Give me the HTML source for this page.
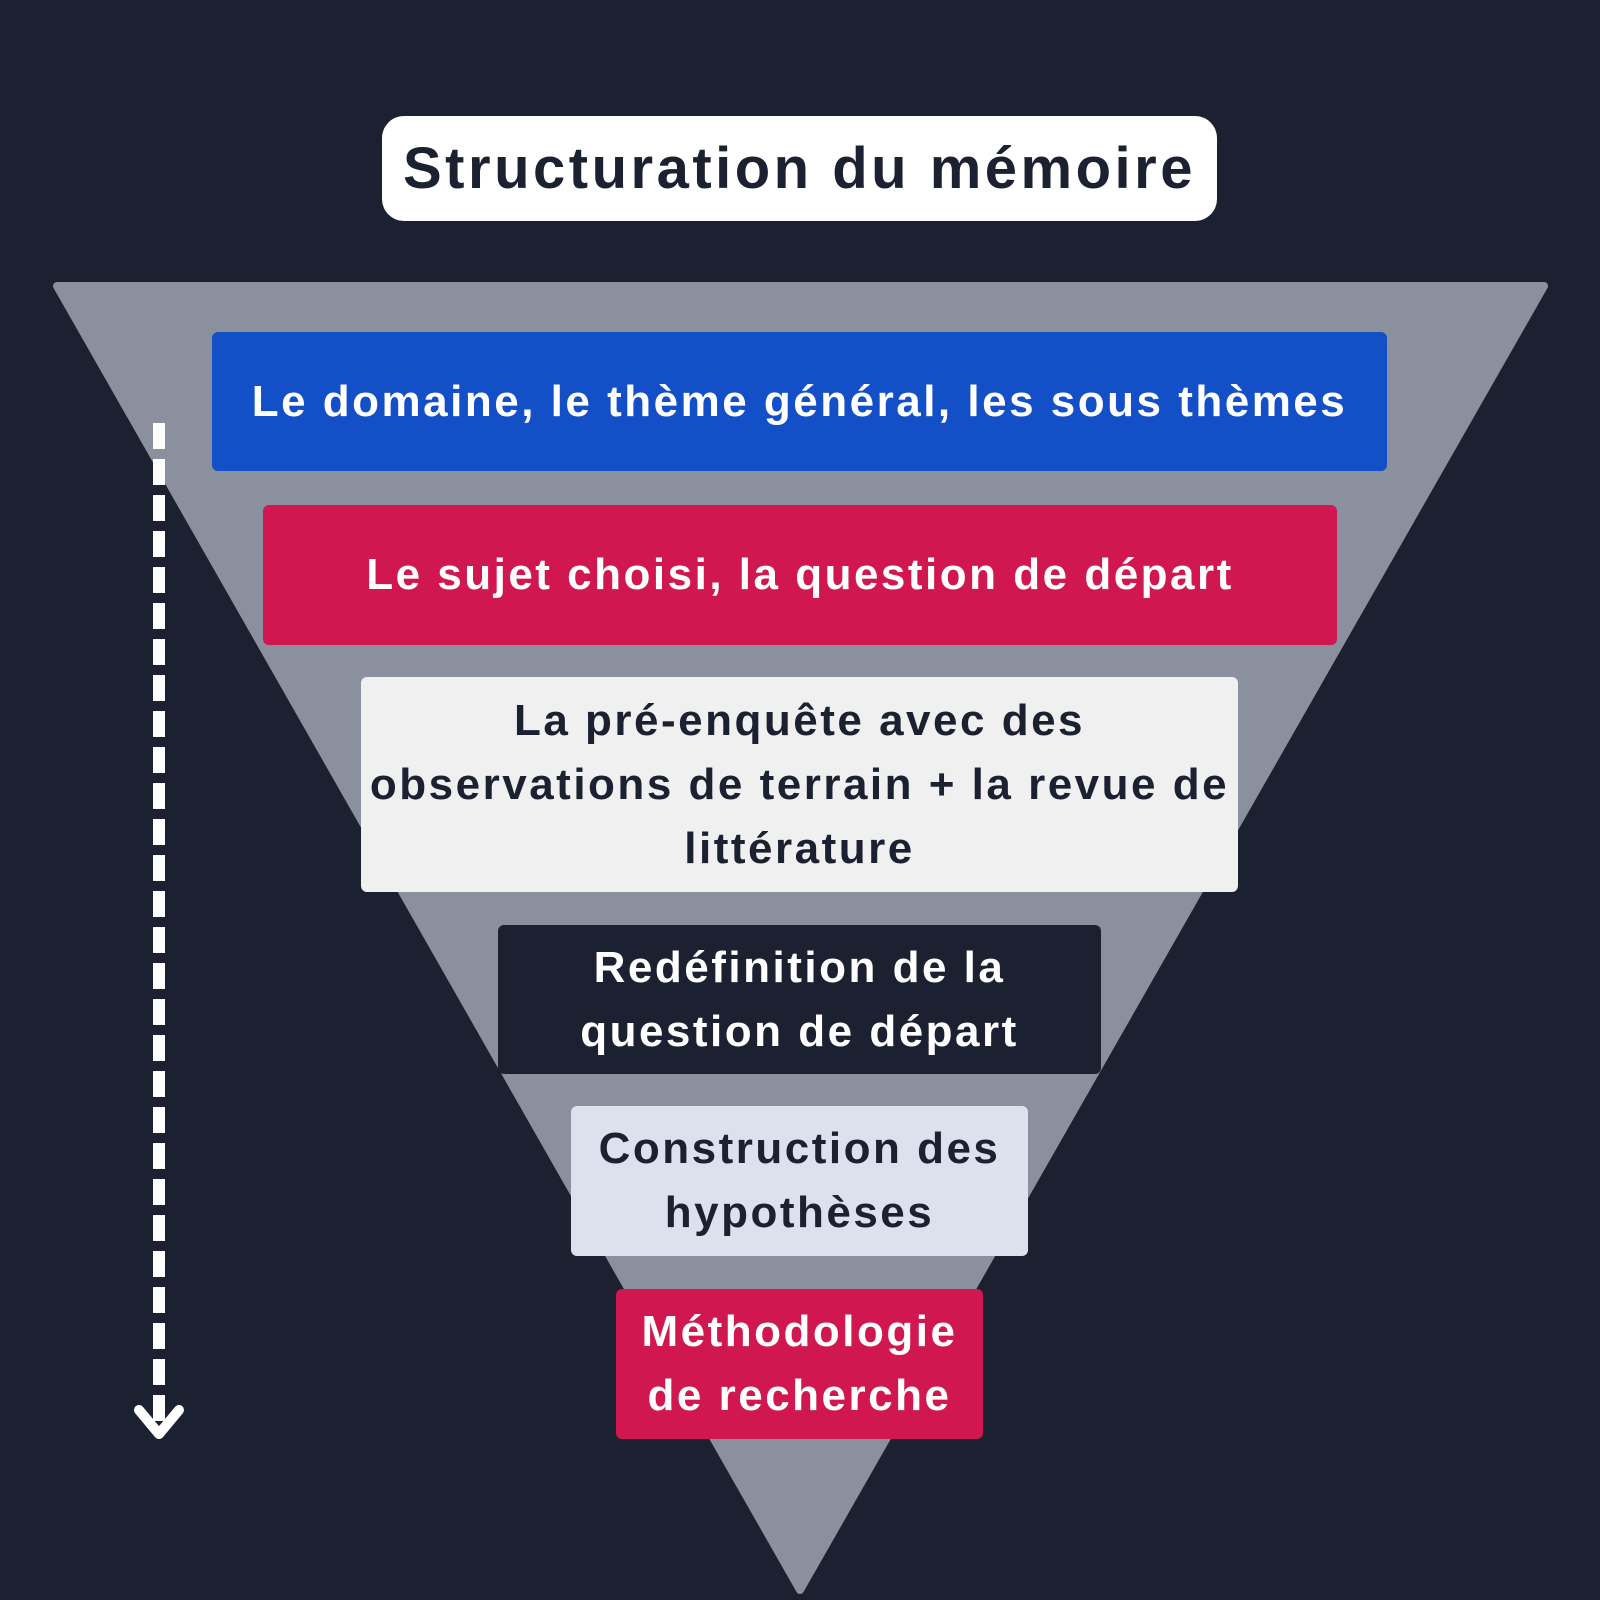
<!DOCTYPE html>
<html><head><meta charset="utf-8"><style>
body{margin:0;width:1600px;height:1600px;background:#1c2131;position:relative;overflow:hidden;font-family:"Liberation Sans",sans-serif;font-weight:bold}
.b{position:absolute;display:flex;align-items:center;justify-content:center;text-align:center;border-radius:6px;font-size:44px;line-height:64px;letter-spacing:2.5px}
</style></head><body>
<svg width="1600" height="1600" style="position:absolute;left:0;top:0">
<polygon points="57,286 1544,286 800,1590" fill="#8a909d" stroke="#8a909d" stroke-width="8" stroke-linejoin="round"/>
<line x1="159" y1="423" x2="159" y2="1425" stroke="#fff" stroke-width="12" stroke-dasharray="26,10"/>
<polyline points="139,1410 159,1434 179,1410" fill="none" stroke="#fff" stroke-width="10" stroke-linecap="round" stroke-linejoin="round"/>
</svg>
<div class="b" style="left:382px;top:116px;width:835px;height:105px;background:#fff;color:#1c2131;border-radius:22px;font-size:58px;letter-spacing:3.5px">Structuration du mémoire</div>
<div class="b" style="left:212px;top:332px;width:1175px;height:139px;background:#134fc6;color:#fff">Le domaine, le thème général, les sous thèmes</div>
<div class="b" style="left:263px;top:505px;width:1074px;height:140px;background:#d1174f;color:#fff">Le sujet choisi, la question de départ</div>
<div class="b" style="left:361px;top:677px;width:877px;height:215px;background:#f0f0f0;color:#1c2131">La pré-enquête avec des<br>observations de terrain + la revue de<br>littérature</div>
<div class="b" style="left:498px;top:925px;width:603px;height:149px;background:#1c2131;color:#fff">Redéfinition de la<br>question de départ</div>
<div class="b" style="left:571px;top:1106px;width:457px;height:150px;background:#dce1ed;color:#1c2131">Construction des<br>hypothèses</div>
<div class="b" style="left:616px;top:1289px;width:367px;height:150px;background:#d1174f;color:#fff">Méthodologie<br>de recherche</div>
</body></html>
